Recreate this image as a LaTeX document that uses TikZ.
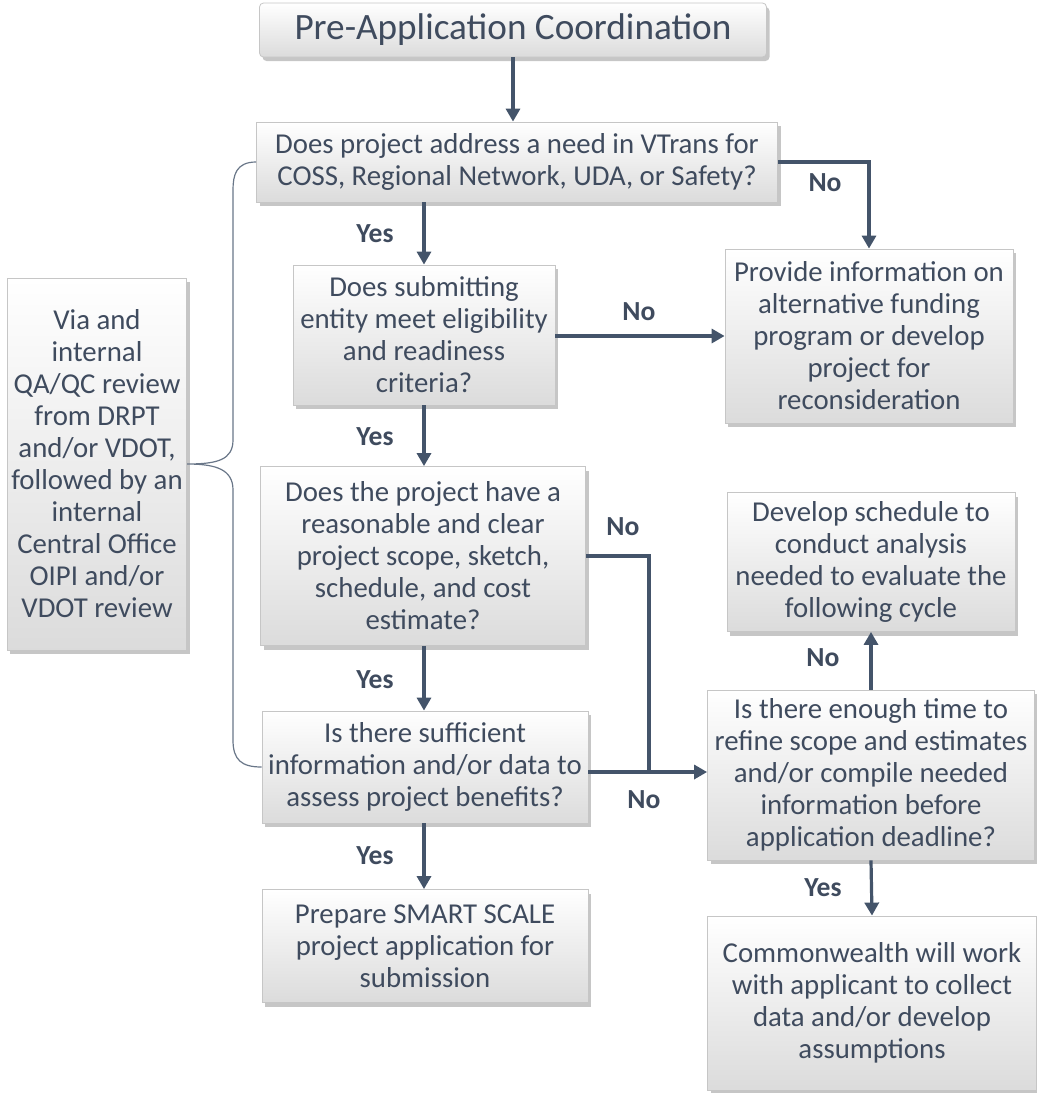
\documentclass[tikz,border=0pt]{standalone}
\usepackage{fontspec}
\setmainfont{Carlito}
\usepackage{tikz}
\usetikzlibrary{calc,shadows,arrows.meta}

\definecolor{txtcol}{HTML}{3F4B5E}
\definecolor{arrcol}{HTML}{44546A}

\begin{document}
\begin{tikzpicture}[x=0.5pt,y=-0.5pt,
        box/.style={draw=gray!45,line width=.4pt,top color=white,bottom color=gray!28,
            drop shadow={shadow xshift=1.5pt,shadow yshift=-2pt,opacity=.45},
            align=center,text=txtcol,inner sep=2pt,
            font=\fontsize{14.4}{16}\selectfont},
        lbl/.style={text=txtcol,font=\fontsize{13.8}{16}\selectfont\bfseries},
        arr/.style={-{Triangle[length=6.5pt,width=7pt]},arrcol,line width=1.6pt},
        brc/.style={arrcol!80,line width=.6pt}]
        \useasboundingbox (0,0) rectangle (1037,1093);
        % boxes
        \node[box,rounded corners=2pt,minimum width=507*.5pt,minimum height=54*.5pt,
            font=\fontsize{18.6}{22}\selectfont] (title) at (513,30) {Pre-Application Coordination};
        \node[box,minimum width=521*.5pt,minimum height=80*.5pt] (q1) at (517,162)
            {Does project address a need in VTrans for\\COSS, Regional Network, UDA, or Safety?};
        \node[box,minimum width=262*.5pt,minimum height=140*.5pt] (q2) at (424,335)
            {Does submitting\\entity meet eligibility\\and readiness\\criteria?};
        \node[box,minimum width=288*.5pt,minimum height=174*.5pt] (alt) at (869,336)
            {Provide information on\\alternative funding\\program or develop\\project for\\reconsideration};
        \node[box,minimum width=325*.5pt,minimum height=179*.5pt] (q3) at (423,556)
            {Does the project have a\\reasonable and clear\\project scope, sketch,\\schedule, and cost\\estimate?};
        \node[box,minimum width=326*.5pt,minimum height=112*.5pt] (q4) at (425,767)
            {Is there sufficient\\information and/or data to\\assess project benefits?};
        \node[box,minimum width=326*.5pt,minimum height=113*.5pt] (prep) at (425,946)
            {Prepare SMART SCALE\\project application for\\submission};
        \node[box,minimum width=288*.5pt,minimum height=139*.5pt] (sched) at (871,562)
            {Develop schedule to\\conduct analysis\\needed to evaluate the\\following cycle};
        \node[box,minimum width=327*.5pt,minimum height=170*.5pt] (q5) at (871,775)
            {Is there enough time to\\refine scope and estimates\\and/or compile needed\\information before\\application deadline?};
        \node[box,minimum width=329*.5pt,minimum height=174*.5pt] (common) at (872,1003)
            {Commonwealth will work\\with applicant to collect\\data and/or develop\\assumptions};
        \node[box,minimum width=179*.5pt,minimum height=372*.5pt] (lft) at (97,464)
            {Via and\\internal\\QA/QC review\\from DRPT\\and/or VDOT,\\followed by an\\internal\\Central Office\\OIPI and/or\\VDOT review};

        % brace from the review box
        \draw[brc] (q1.west) .. controls +(-20,0) and +(0,-15) .. (233,190) -- (233,440)
            .. controls +(0,20) and +(30,0) .. (lft.east)
            .. controls +(30,0) and +(0,-20) .. (233,490) -- (233,740)
            .. controls +(0,20) and +(-20,0) .. (q4.west);

        % connectors
        \coordinate (jn) at (649,772);
        \draw[arr] (title.south) -- (title.south |- q1.north);
        \draw[arr] (q1.east) -| (alt.north);
        \draw[arr] (q2.south |- q1.south) -- (q2.north);
        \draw[arr] (alt.west -| q2.east) -- (alt.west);
        \draw[arr] (q2.south) -- (q2.south |- q3.north);
        \draw[arrcol,line width=1.6pt] (q3.east) -| (jn);
        \draw[arr] (q3.south -| q2.south) -- (q2.south |- q4.north);
        \draw[arr] (jn -| q4.east) -- (jn -| q5.west);
        \draw[arr] (q4.south -| q2.south) -- (q2.south |- prep.north);
        \draw[arr] (q5.north) -- (sched.south);
        \draw[arr] (q5.south) -- (common.north);

        % labels
        \node[lbl] (no1) at (825,183) {No};
        \node[lbl] (no2) at (639,312) {No};
        \node[lbl] (no3) at (623,527) {No};
        \node[lbl] (no4) at (644,800) {No};
        \node[lbl] (no5) at (823,658) {No};
        \node[lbl] (yes1) at (375,234) {Yes};
        \node[lbl] (yes2) at (375,437) {Yes};
        \node[lbl] (yes3) at (375,680) {Yes};
        \node[lbl] (yes4) at (375,856) {Yes};
        \node[lbl] (yes5) at (823,888) {Yes};
\end{tikzpicture}
\end{document}
